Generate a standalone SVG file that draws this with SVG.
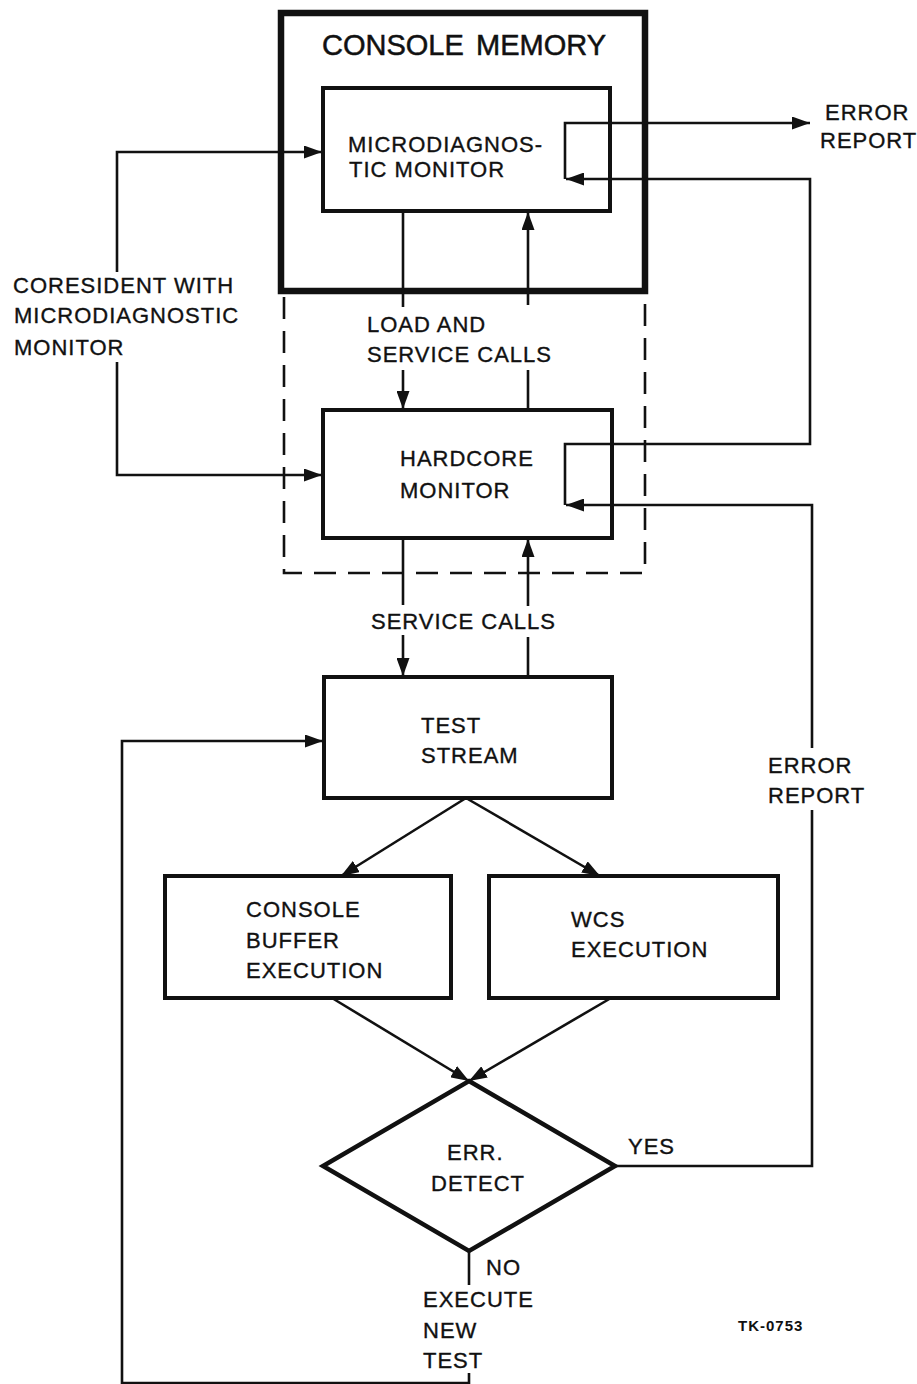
<svg xmlns="http://www.w3.org/2000/svg" width="917" height="1384" viewBox="0 0 917 1384">
  <style>
    .box { fill: none; stroke: #111; stroke-width: 4; }
    .outer { fill: none; stroke: #111; stroke-width: 6.5; }
    .dash { fill: none; stroke: #111; stroke-width: 2.6; stroke-dasharray: 22 12; }
    .ln { fill: none; stroke: #111; stroke-width: 2.6; }
    .arr { fill: none; stroke: #111; stroke-width: 2.6; marker-end: url(#head); }
    .lbl { font-family: "Liberation Sans", Arial, Helvetica, sans-serif; font-size: 22px; letter-spacing: 1px; fill: #111; stroke: #111; stroke-width: 0.35px; }
    .title { font-family: "Liberation Sans", Arial, Helvetica, sans-serif; font-size: 29px; fill: #111; stroke: #111; stroke-width: 0.5px; }
    .tag { font-family: "Liberation Sans", Arial, Helvetica, sans-serif; font-size: 15px; font-weight: bold; letter-spacing: 1px; fill: #111; }
  </style>
  <defs>
    <marker id="head" markerUnits="userSpaceOnUse" markerWidth="19" markerHeight="13" refX="18" refY="6.5" orient="auto">
      <path d="M0,0 L18,6.5 L0,13 z" fill="#111"/>
    </marker>
  </defs>
  <rect width="917" height="1384" fill="#fff"/>

  <!-- console memory enclosure with the dashed co-resident region below it -->
  <g id="console-memory">
    <rect class="outer" x="281" y="13" width="364" height="278"/>
    <text class="title" x="322" y="55">CONSOLE <tspan x="476">MEMORY</tspan></text>
  </g>
  <g id="coresident-region">
    <path class="dash" d="M284,297 L284,573 L645,573 L645,297"/>
  </g>

  <g id="microdiagnostic-monitor">
    <rect class="box" x="323" y="88" width="287" height="123"/>
    <text class="lbl" x="348" y="152">MICRODIAGNOS-</text>
    <text class="lbl" x="349" y="177">TIC MONITOR</text>
  </g>

  <g id="hardcore-monitor">
    <rect class="box" x="323" y="410" width="289" height="128"/>
    <text class="lbl" x="400" y="466">HARDCORE</text>
    <text class="lbl" x="400" y="498">MONITOR</text>
  </g>

  <g id="test-stream">
    <rect class="box" x="324" y="677" width="288" height="121"/>
    <text class="lbl" x="421" y="733">TEST</text>
    <text class="lbl" x="421" y="763">STREAM</text>
  </g>

  <g id="console-buffer-execution">
    <rect class="box" x="165" y="876" width="286" height="122"/>
    <text class="lbl" x="246" y="917">CONSOLE</text>
    <text class="lbl" x="246" y="948">BUFFER</text>
    <text class="lbl" x="246" y="978">EXECUTION</text>
  </g>

  <g id="wcs-execution">
    <rect class="box" x="489" y="876" width="289" height="122"/>
    <text class="lbl" x="571" y="927">WCS</text>
    <text class="lbl" x="571" y="957">EXECUTION</text>
  </g>

  <g id="err-detect">
    <path class="box" d="M469,1081 L615,1166 L469,1251 L323,1166 z" style="stroke-width:4.5"/>
    <text class="lbl" x="447" y="1160">ERR.</text>
    <text class="lbl" x="431" y="1191">DETECT</text>
  </g>

  <g id="connectors">
    <!-- coresident links into both monitors -->
    <path class="arr" d="M117,272 L117,152 L322,152"/>
    <path class="arr" d="M117,362 L117,475 L322,475"/>

    <!-- load and service calls between the monitors -->
    <path class="ln" d="M403,211 L403,307"/>
    <path class="arr" d="M403,370 L403,409"/>
    <path class="ln" d="M528,410 L528,370"/>
    <path class="arr" d="M528,305 L528,212"/>

    <!-- service calls between hardcore monitor and test stream -->
    <path class="ln" d="M403,538 L403,605"/>
    <path class="arr" d="M403,635 L403,676"/>
    <path class="ln" d="M528,677 L528,637"/>
    <path class="arr" d="M528,606 L528,539"/>

    <!-- test stream fans out to both execution paths -->
    <path class="arr" d="M466,798 L341,876"/>
    <path class="arr" d="M466,798 L600,876"/>

    <!-- both execution paths converge on error detection -->
    <path class="arr" d="M332,998 L469,1081"/>
    <path class="arr" d="M611,998 L469,1081"/>

    <!-- YES: error report back up to the hardcore monitor -->
    <path class="ln" d="M615,1166 L812,1166 L812,810"/>
    <path class="arr" d="M812,748 L812,505 L566,505"/>

    <!-- hardcore monitor passes the report to the microdiagnostic monitor -->
    <path class="arr" d="M565,505 L565,444 L810,444 L810,179 L566,179"/>

    <!-- microdiagnostic monitor emits the error report -->
    <path class="arr" d="M565,179 L565,123 L810,123"/>

    <!-- NO: execute new test loop -->
    <path class="ln" d="M469,1251 L469,1285"/>
    <path class="arr" d="M469,1373 L469,1383 L122,1383 L122,741 L323,741"/>
  </g>

  <g id="labels">
    <text class="lbl" x="825" y="120">ERROR</text>
    <text class="lbl" x="820" y="148">REPORT</text>
    <text class="lbl" x="13" y="293">CORESIDENT WITH</text>
    <text class="lbl" x="14" y="323">MICRODIAGNOSTIC</text>
    <text class="lbl" x="14" y="355">MONITOR</text>
    <text class="lbl" x="367" y="332">LOAD AND</text>
    <text class="lbl" x="367" y="362">SERVICE CALLS</text>
    <text class="lbl" x="371" y="629">SERVICE CALLS</text>
    <text class="lbl" x="768" y="773">ERROR</text>
    <text class="lbl" x="768" y="803">REPORT</text>
    <text class="lbl" x="628" y="1154">YES</text>
    <text class="lbl" x="486" y="1275">NO</text>
    <text class="lbl" x="423" y="1307">EXECUTE</text>
    <text class="lbl" x="423" y="1338">NEW</text>
    <text class="lbl" x="423" y="1368">TEST</text>
    <text class="tag" x="738" y="1331">TK-0753</text>
  </g>
</svg>
